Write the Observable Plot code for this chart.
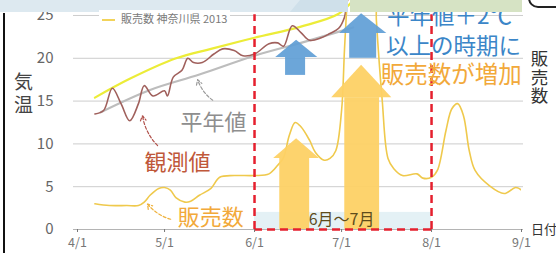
<!DOCTYPE html>
<html><head><meta charset="utf-8">
<script src="https://cdn.jsdelivr.net/npm/d3@7"></script>
<script src="https://cdn.jsdelivr.net/npm/@observablehq/plot@0.6"></script>
<style>
body{margin:0;background:#fff;overflow:hidden;font-family:"Noto Sans CJK JP","Noto Sans",sans-serif}
#wrap{position:relative;width:556px;height:253px;overflow:hidden;background:#fff}
.ov{position:absolute;white-space:nowrap}
.vt{writing-mode:vertical-rl;text-orientation:upright}
</style></head><body><div id="wrap"><div id="chart"></div></div>
<script>
// ---- data (month/day in 2013) ----
const salesDates = ["4/7","4/12","4/18","4/22","4/24","4/26","4/29","5/1","5/3","5/5","5/8","5/10","5/13","5/17","5/20","5/25","6/1","6/6","6/9","6/11","6/13","6/15","6/17","6/20","6/22","6/25","6/27","6/29","7/1","7/2","7/3","7/4","7/12","7/13","7/15","7/17","7/19","7/22","7/27","7/29","8/1","8/3","8/6","8/8","8/10","8/12","8/14","8/16","8/21","8/26","8/30","9/1"];
const salesValues = [3.0,2.8,2.8,2.8,3.2,4.0,4.8,4.9,4.6,3.7,3.2,3.3,4.0,4.8,6.1,6.3,6.3,6.5,7.5,8.4,11.0,12.5,12.0,10.4,9.0,8.1,8.3,9.2,13.9,21.0,27.0,31.0,31.0,24.4,15.1,8.3,7.1,6.3,6.5,6.0,6.1,6.9,11.6,14.1,14.7,13.3,9.2,6.9,5.1,4.2,4.9,4.6];

const observedDates = ["4/7","4/10","4/13","4/16","4/19","4/22","4/24","4/27","5/1","5/2","5/4","5/7","5/9","5/11","5/14","5/18","5/21","5/25","5/28","6/1","6/6","6/9","6/11","6/14","6/17","6/20","6/24","6/27","6/30","7/2","7/3","7/5"];
const observedValues = [13.5,13.9,16.5,14.7,12.7,14.7,16.8,15.6,16.2,15.6,17.8,18.6,20.0,19.5,19.5,20.5,21.1,20.9,20.3,20.5,21.7,21.8,21.4,23.8,23.0,22.1,22.4,22.9,23.5,24.8,26.7,28.0];

const normalDates = ["4/9","4/26","5/13","6/1","6/17","7/1","7/5"];
const normalValues = [13.7,16.3,18.1,20.3,21.8,23.2,23.6];

const plus2Dates = ["4/7","4/19","5/5","5/17","6/1","6/17","6/30","7/5"];
const plus2Values = [15.4,17.6,20.0,21.1,22.4,23.7,25.2,26.8];

const yTicks = [0,5,10,15,20,25];
const xTickLabels = ["4/1","5/1","6/1","7/1","8/1","9/1"];

// arrows (blue: temperature, yellow: sales)
const blueHeadLeft = ["6/8.3","6/30.3"];
const blueHeadTip = ["6/15.5","7/7.9"];
const blueHeadRight = ["6/22.8","7/16.6"];
const blueHeadBase = [20.1,22.9];
const blueHeadTop = [22.1,25.2];
const blueShaftLeft = ["6/11.7","7/3.8"];
const blueShaftRight = ["6/18.6","7/13.1"];
const blueShaftBottom = [18.0,20.0];

const yellowHeadLeft = ["6/7.6","6/27.6"];
const yellowHeadTip = ["6/15.5","7/7.9"];
const yellowHeadRight = ["6/23.4","7/18.3"];
const yellowHeadBase = [8.3,15.4];
const yellowHeadTop = [10.6,19.2];
const yellowShaftLeft = ["6/9.7","7/2.1"];
const yellowShaftRight = ["6/20","7/14.1"];
const yellowShaftBottom = [0,0];

const periodStart = "6/1", periodEnd = "8/1";

// annotation labels
const noteTexts = ["平年値","観測値","販売数","平年値＋2℃","以上の時期に","販売数が増加","6月～7月"];
const noteDates = ["5/17.9","5/5.5","5/16.9","8/7.2","8/8.6","8/7.8","7/1"];
const noteValues = [12.5,7.8,1.4,24.8,21.3,18.0,1.15];
const noteColors = ["#8e8e8e","#c0583a","#f2a93a","#3b86c8","#3b86c8","#f2a93a","#5e4c1c"];
const noteSizes = [22,22,22,22.5,22.5,23.5,16];

const pointerFromDates = ["5/17.6","4/28.6","5/3.1"];
const pointerFromValues = [15.1,9.8,1.2];
const pointerToDates = ["5/12.4","4/23.4","4/25.1"];
const pointerToValues = [17.5,13.3,3.0];
const pointerColors = ["#9a9a9a","#b0504a","#efb23c"];

// ---- helpers ----
const md = s => { const [m, d] = s.split("/").map(Number); return new Date(Date.UTC(2013, m - 1, 1) + (d - 1) * 864e5); };
const series = (ds, vs) => ds.map((d, i) => ({date: md(d), value: vs[i]}));
const sales = series(salesDates, salesValues);
const observed = series(observedDates, observedValues);
const normal = series(normalDates, normalValues);
const plus2 = series(plus2Dates, plus2Values);

function heads(L, T, R, base, top) {
  const out = [];
  L.forEach((l, i) => {
    out.push({k: i, x: md(l), y1: base[i], y2: base[i]});
    out.push({k: i, x: md(T[i]), y1: base[i], y2: top[i]});
    out.push({k: i, x: md(R[i]), y1: base[i], y2: base[i]});
  });
  return out;
}
function shafts(L, R, bottom, top) {
  return L.map((l, i) => ({x1: md(l), x2: md(R[i]), y1: bottom[i], y2: top[i]}));
}
const blueHeads = heads(blueHeadLeft, blueHeadTip, blueHeadRight, blueHeadBase, blueHeadTop);
const blueShafts = shafts(blueShaftLeft, blueShaftRight, blueShaftBottom, blueHeadBase);
const yellowHeads = heads(yellowHeadLeft, yellowHeadTip, yellowHeadRight, yellowHeadBase, yellowHeadTop);
const yellowShafts = shafts(yellowShaftLeft, yellowShaftRight, yellowShaftBottom, yellowHeadBase);

const notes = noteTexts.map((t, i) => ({t, x: md(noteDates[i]), y: noteValues[i], c: noteColors[i], s: noteSizes[i]}));
const pointers = pointerFromDates.map((d, i) => ({x1: md(d), y1: pointerFromValues[i], x2: md(pointerToDates[i]), y2: pointerToValues[i], c: pointerColors[i]}));

const font = '"Noto Sans CJK JP","Noto Sans",sans-serif';

const chart = Plot.plot({
  width: 556, height: 253,
  marginTop: 0, marginBottom: 24, marginLeft: 77, marginRight: 35,
  style: {fontFamily: font, background: "transparent", overflow: "hidden"},
  x: {type: "utc", domain: [md("4/1"), md("9/1")]},
  y: {domain: [0, 26.75]},
  marks: [
    Plot.rect([0], {x1: md(periodStart), x2: md(periodEnd), y1: 0, y2: 2, fill: "#e4f1f5"}),
    Plot.ruleY(yTicks.filter(v => v > 0), {stroke: "#cdcdcd", strokeWidth: 1, insetLeft: -4, insetRight: -2}),
    Plot.ruleY([0], {stroke: "#b4b4b4", strokeWidth: 1.2, insetLeft: -4, insetRight: -2}),
    Plot.line(normal, {x: "date", y: "value", stroke: "#bdbdbd", strokeWidth: 2.2, curve: "catmull-rom", clip: true}),
    Plot.line(plus2, {x: "date", y: "value", stroke: "#ecec38", strokeWidth: 2.2, curve: "catmull-rom", clip: true}),
    Plot.line(observed, {x: "date", y: "value", stroke: "#a0605c", strokeWidth: 1.6, curve: "catmull-rom", clip: true}),
    Plot.line(sales, {x: "date", y: "value", stroke: "#efc94c", strokeWidth: 1.6, curve: "catmull-rom", clip: true}),
    Plot.rect(yellowShafts, {x1: "x1", x2: "x2", y1: "y1", y2: "y2", fill: "#fdd165", fillOpacity: 0.95}),
    Plot.areaY(yellowHeads, {x: "x", y1: "y1", y2: "y2", z: "k", fill: "#fdd165", fillOpacity: 0.95, curve: "linear"}),
    Plot.rect(blueShafts, {x1: "x1", x2: "x2", y1: "y1", y2: "y2", fill: "#5f9ed6", fillOpacity: 0.92}),
    Plot.areaY(blueHeads, {x: "x", y1: "y1", y2: "y2", z: "k", fill: "#5f9ed6", fillOpacity: 0.92, curve: "linear"}),
    Plot.ruleX([periodStart, periodEnd], {x: d => md(d), y1: 0, y2: 25.1, stroke: "#e5202e", strokeWidth: 2.5, strokeDasharray: "8,5"}),
    Plot.ruleY([0], {x1: md(periodStart), x2: md(periodEnd), stroke: "#e5202e", strokeWidth: 2.5, strokeDasharray: "8,5"}),
    Plot.arrow(pointers, {x1: "x1", y1: "y1", x2: "x2", y2: "y2", stroke: "c", strokeWidth: 1.2, strokeDasharray: "3,2", bend: 18, headLength: 7}),
    Plot.text(notes, {x: "x", y: "y", text: "t", fill: "c", fontSize: "s", textAnchor: "middle", lineAnchor: "middle"}),
    Plot.axisY(yTicks, {tickSize: 0, tickPadding: 24, fontSize: 15, color: "#666"}),
    Plot.axisX(xTickLabels.map(md), {tickSize: 3, tickPadding: 6, fontSize: 12.5, color: "#777", tickFormat: d3.utcFormat("%-m/%-d")})
  ]
});
document.getElementById("chart").appendChild(chart);

// ---- overlays: page frame, axis titles, legend ----
const wrap = document.getElementById("wrap");
function ov(html, css, cls) { const e = document.createElement("div"); e.className = "ov" + (cls ? " " + cls : ""); e.innerHTML = html; e.style.cssText += css; wrap.appendChild(e); }
ov("", "left:0;top:0;width:300px;height:12px;background:#dde9f0;");
ov("", "left:290px;top:0;width:58px;height:12px;background:#cfe0ea;clip-path:polygon(10px 0,100% 0,100% 100%,0 100%);");
ov("", "left:350px;top:0;width:172px;height:12px;background:#d6e3c4;");
ov("", "left:528px;top:-14px;width:40px;height:18px;border:2px solid #222;border-radius:10px;");
ov("", "left:3px;top:13px;width:2px;height:240px;background:#111;");
ov('<span style="display:inline-block;width:13px;height:2px;background:#f2d35a;vertical-align:middle;margin-right:6px"></span>販売数 神奈川県 2013', "left:99px;top:10px;font-size:11px;line-height:16px;color:#7a7a7a;background:#fff;padding:0 3px;");
ov("気温", "left:10px;top:72px;font-size:19px;line-height:27px;letter-spacing:4px;color:#444;", "vt");
ov("販売数", "left:526px;top:50px;font-size:17.5px;line-height:26px;letter-spacing:1px;color:#333;", "vt");
ov("日付", "left:531px;top:219px;font-size:13px;color:#333;");
</script></body></html>
